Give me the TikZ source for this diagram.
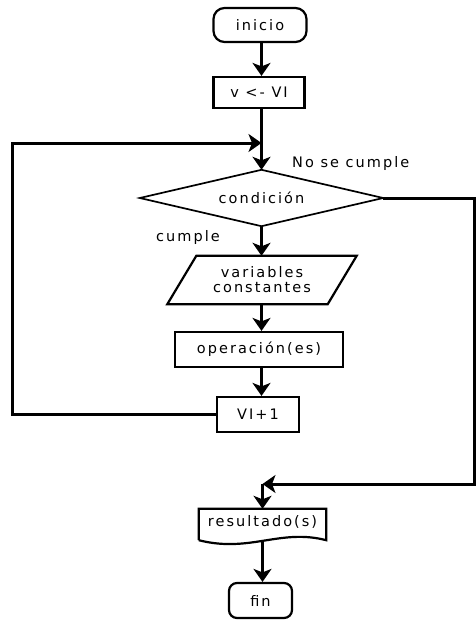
\documentclass[tikz,border=0pt]{standalone}
\usepackage{fontspec}
\setmainfont{DejaVu Sans}[LetterSpace=14]
\usetikzlibrary{arrows.meta,calc}

\begin{document}
\begin{tikzpicture}[x=1pt,y=-1pt,
  every node/.style={font=\fontsize{14.5}{15}\selectfont, inner sep=0pt},
  box/.style={draw, line width=2.2pt, minimum width=#1},
  term/.style={draw, line width=2.2pt, rounded corners=11pt},
  flow/.style={line width=3pt, -{Stealth[length=13pt,width=18pt,inset=3.5pt]}},
  lbl/.style={anchor=west}]
  \useasboundingbox (0,0) rectangle (476,621);
  \fill[white] (0,0) rectangle (476,621);

  % terminals and process boxes
  \node[term, minimum width=93pt, minimum height=34pt] (ini) at (260,25) {inicio};
  \node[box=91pt, minimum height=31pt] (v) at (259,92.5) {v <- VI};

  % decision drawn from an invisible node
  \node[minimum width=243pt, minimum height=56pt] (cond) at (261.5,198) {condición};
  \draw[line width=1.7pt] (cond.north) -- (cond.east) -- (cond.south) -- (cond.west) -- cycle;

  % data (parallelogram) drawn from an invisible node
  \node[minimum width=160pt, minimum height=48pt, align=center] (dat) at (262,280)
    {variables\\constantes};
  \draw[line width=2.2pt]
    ($(dat.south west)+(-14.5,0)$) -- ($(dat.south east)+(-14.5,0)$)
    -- ($(dat.north east)+(14.5,0)$) -- ($(dat.north west)+(14.5,0)$) -- cycle;
  \node[box=168pt, minimum height=35pt] (op) at (259,349.5) {operación(es)};
  \node[box=82pt, minimum height=35pt] (inc) at (258,414.5) {VI+1};

  % output document with wavy lower edge
  \node[minimum width=127pt, minimum height=31pt] (res) at (262.5,524.5) {};
  \node at (262.5,522) {resultado(s)};
  \draw[line width=2.2pt]
    (res.south west) -- (res.north west) -- (res.north east) -- (res.south east)
    .. controls ($(res.south east)+(-46,-12)$) and ($(res.south west)+(51,13)$)
    .. (res.south west);
  \node[term, rounded corners=8pt, minimum width=63pt, minimum height=35pt] (fin)
    at (260.5,600.5) {fin};

  % branch labels
  \node[lbl] (nolbl) at (292,163) {No se cumple};
  \node[lbl] (silbl) at (156,237) {cumple};

  % junction points
  \coordinate (jtop) at (261.5,143);
  \coordinate (lp) at (12,143);
  \coordinate (rx) at (474,198);
  \coordinate (rb) at (474,484);
  \coordinate (jb) at (262.5,484);

  % main flow
  \draw[flow] (ini.south -| jtop) -- (v.north -| jtop);
  \draw[flow] (v.south -| jtop) -- (cond.north);
  \draw[flow] (cond.south) -- (cond.south |- dat.north);
  \draw[flow] (dat.south -| cond.south) -- (op.north -| cond.south);
  \draw[flow] (op.south -| cond.south) -- (inc.north -| cond.south);

  % loop back
  \draw[flow] (inc.west) -| (lp) -- (jtop);

  % exit branch
  \draw[flow] (cond.east) -- (rx) -- (rb) -- (jb);
  \draw[flow] (jb) -- (res.north);
  \draw[flow] (res.south) -- (fin.north -| res.south);
\end{tikzpicture}
\end{document}
